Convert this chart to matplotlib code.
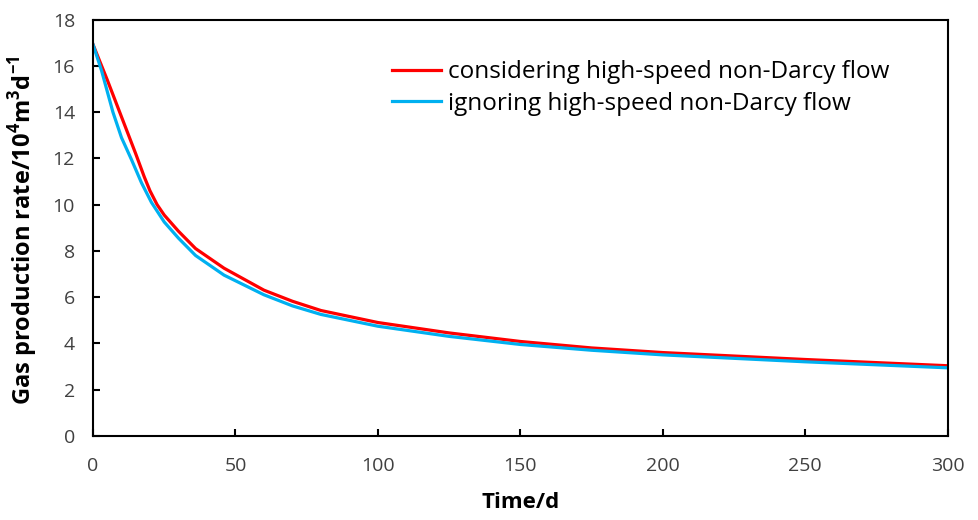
import matplotlib
matplotlib.use("Agg")
from matplotlib import pyplot as plt

plt.rcParams['font.family'] = ['Open Sans', 'DejaVu Sans']
plt.rcParams['mathtext.fontset'] = 'custom'
plt.rcParams['mathtext.rm'] = 'Open Sans'
plt.rcParams['mathtext.bf'] = 'Open Sans:bold'

# production time, days
time_d = [0, 5, 10, 15, 18, 20, 22.5, 25, 30, 36, 46, 60, 70, 80, 100, 125, 150, 175, 200,
          250, 300]
# gas rate with high-speed non-Darcy effect, 10^4 m3/d
rate_non_darcy = [16.93, 15.4, 13.8, 12.2, 11.2, 10.6, 10.0, 9.55, 8.85, 8.1, 7.25, 6.3, 5.82,
                  5.42, 4.9, 4.45, 4.08, 3.8, 3.6, 3.3, 3.03]
# gas rate ignoring that effect
time_d2 = [0, 3, 7, 10, 13.5, 17, 20.5, 25, 30, 36, 46, 60, 70, 80, 100, 125, 150, 175, 200,
           250, 300]
rate_darcy = [16.93, 15.8, 14.0, 12.9, 11.95, 10.95, 10.1, 9.25, 8.55, 7.8, 6.95, 6.1, 5.62,
              5.25, 4.74, 4.3, 3.95, 3.7, 3.5, 3.2, 2.94]

fig = plt.figure(figsize=(9.79, 5.2), dpi=100)
ax = fig.add_axes([0.095, 0.162, 0.873, 0.8])

ax.plot(time_d, rate_non_darcy, color='#FF0000', lw=2.3,
        label='considering high-speed non-Darcy flow')
ax.plot(time_d2, rate_darcy, color='#00B0F0', lw=2.3,
        label='ignoring high-speed non-Darcy flow')

ax.set_xlim(0, 300)
ax.set_ylim(0, 18)
ax.set_xticks(range(0, 301, 50))
ax.set_yticks(range(0, 19, 2))
ax.tick_params(direction='in', length=5, width=1.5, labelsize=14, labelcolor='#404040')
ax.tick_params(axis='x', pad=15)
ax.tick_params(axis='y', pad=13)
for s in ax.spines.values():
    s.set_linewidth(1.5)

ax.set_xlabel('Time/d', fontsize=16, fontweight='bold')
ax.xaxis.set_label_coords(0.5, -0.135)
ax.set_ylabel(r'Gas production rate/10$^\mathbf{4}$m$^\mathbf{3}$d$^\mathbf{-1}$',
              fontsize=17, fontweight='bold')
ax.yaxis.set_label_coords(-0.062, 0.495)

ax.legend(loc='upper left', bbox_to_anchor=(0.3245, 0.955), frameon=False, fontsize=17.5,
          handlelength=2.0, labelspacing=0.3, handletextpad=0.3)

plt.savefig('out.png', dpi=100)
